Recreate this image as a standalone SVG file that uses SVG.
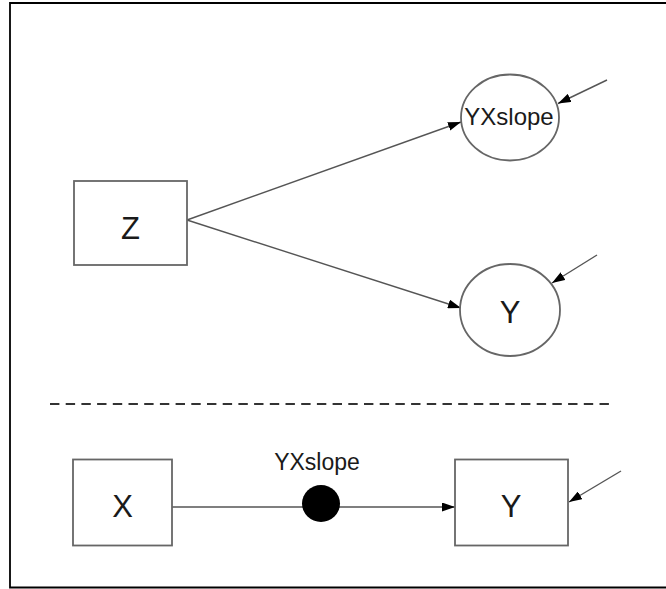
<svg xmlns="http://www.w3.org/2000/svg" width="666" height="589" viewBox="0 0 666 589">
  <style>
    .shape { fill: #ffffff; stroke: #666666; stroke-width: 1.8; }
    .label { font-family: "Liberation Sans", Arial, sans-serif; fill: #1a1a1a; text-anchor: middle; }
    .big { font-size: 31px; }
    .mid { font-size: 24px; }
    .edge { fill: none; stroke: #555555; stroke-width: 1.4; marker-end: url(#arrow); }
  </style>
  <defs>
    <marker id="arrow" viewBox="0 0 13 9" refX="13" refY="4.5" markerWidth="13" markerHeight="9" markerUnits="userSpaceOnUse" orient="auto">
      <path d="M0,0 L13,4.5 L0,9 Z" fill="#000000"/>
    </marker>
  </defs>

  <rect width="666" height="589" fill="#ffffff"/>

  <!-- frame (left, top, bottom) -->
  <g id="frame" stroke="#000000" stroke-width="1.8" fill="none">
    <path d="M666,3 L10,3 L10,587.5 L666,587.5"/>
  </g>

  <!-- divider between the two panels -->
  <line x1="50" y1="404" x2="612" y2="404" stroke="#333333" stroke-width="2.2" stroke-dasharray="9.4 6.3"/>

  <g id="connectors">
    <line class="edge" x1="187" y1="220" x2="461" y2="122"/>
    <line class="edge" x1="187" y1="220" x2="461" y2="308"/>
    <line class="edge" x1="607" y1="80" x2="558" y2="103.5"/>
    <line class="edge" x1="597" y1="255" x2="552" y2="283"/>
    <line class="edge" x1="172" y1="507" x2="455" y2="507"/>
    <line class="edge" x1="621" y1="471" x2="569" y2="502"/>
  </g>

  <g id="node-z">
    <rect class="shape" x="74" y="181" width="113" height="84"/>
    <text class="label big" x="130.5" y="238.5">Z</text>
  </g>

  <g id="node-yxslope">
    <ellipse class="shape" cx="510" cy="117.5" rx="49" ry="43"/>
    <text class="label mid" x="509" y="125">YXslope</text>
  </g>

  <g id="node-y-top">
    <ellipse class="shape" cx="510" cy="310" rx="50" ry="46"/>
    <text class="label big" x="510" y="323">Y</text>
  </g>

  <g id="node-x">
    <rect class="shape" x="73" y="459.5" width="99" height="86"/>
    <text class="label big" x="122.5" y="517">X</text>
  </g>

  <g id="node-slope-dot">
    <ellipse cx="321" cy="503.5" rx="19" ry="18.5" fill="#000000"/>
    <text class="label" x="317" y="469.5" font-size="23">YXslope</text>
  </g>

  <g id="node-y-bottom">
    <rect class="shape" x="455" y="459.5" width="113" height="86"/>
    <text class="label big" x="511" y="517">Y</text>
  </g>
</svg>
